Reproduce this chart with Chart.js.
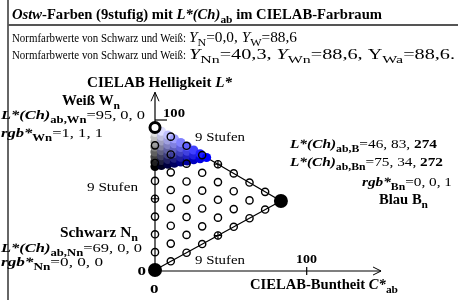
<!DOCTYPE html>
<html>
<head>
<meta charset="utf-8">
<script src="https://cdn.jsdelivr.net/npm/chart.js@4"></script>
<style>
  body { margin: 0; background: #fff; }
  #wrap { position: relative; width: 458px; height: 300px; }
</style>
</head>
<body>
<div id="wrap"><canvas id="chart"></canvas></div>
<script>
'use strict';

// ------------------------------- Data ------------------------------//
// corners in (C*ab, L*)
const cornerN = [0, 0];
const cornerW = [0, 95];
const cornerB = [83, 46];

// open circle lattice, 9 steps (one column per chroma step)
const gridC = [0, 10.4, 20.8, 31.1, 41.5, 51.9, 62.3, 72.6, 83];
const gridL = [
  [0, 11.9, 23.8, 35.6, 47.5, 59.4, 71.3, 83.1, 95],
  [5.8, 17.6, 29.5, 41.4, 53.3, 65.1, 77.0, 88.9],
  [11.5, 23.4, 35.3, 47.1, 59.0, 70.9, 82.8],
  [17.3, 29.1, 41.0, 52.9, 64.8, 76.6],
  [23.0, 34.9, 46.8, 58.6, 70.5],
  [28.8, 40.6, 52.5, 64.4],
  [34.5, 46.4, 58.3],
  [40.3, 52.1],
  [46.0]
];
// crossed circles (midpoints of the sides)
const crossC = [0, 41.5, 41.5];
const crossL = [47.5, 23.0, 70.5];

// coloured lattice between Nn, Wn and Bn
const colC = [0, 4.25, 8.5, 12.75, 17, 21.25, 25.5, 29.75, 34];
const colL = [
  [69, 72.25, 75.5, 78.75, 82, 85.25, 88.5, 91.75, 95],
  [69.75, 73, 76.25, 79.5, 82.75, 86, 89.25, 92.5],
  [70.5, 73.75, 77, 80.25, 83.5, 86.75, 90],
  [71.25, 74.5, 77.75, 81, 84.25, 87.5],
  [72, 75.25, 78.5, 81.75, 85],
  [72.75, 76, 79.25, 82.5],
  [73.5, 76.75, 80],
  [74.25, 77.5],
  [75]
];

// ------------------------------- Build points ------------------------------//
const gridPts = [];
gridL.forEach((col, j) => col.forEach(l => gridPts.push({ x: gridC[j], y: l })));

const colPts = [];
const colColors = [];
colL.forEach((col, j) => col.forEach((l, i) => {
  colPts.push({ x: colC[j], y: l });
  const w = Math.round(255 * i / 8);
  const b = Math.round(255 * (i + j) / 8);
  colColors.push(`rgb(${w},${w},${b})`);
}));

const crossPts = crossC.map((c, k) => ({ x: c, y: crossL[k] }));

// ------------------------------- Text helper ------------------------------//
const SERIF = '"Liberation Serif", "Times New Roman", serif';

function fontFor(flags, size) {
  let s = flags.includes('s') ? Math.round(size * 0.78) : size;
  return `${flags.includes('i') ? 'italic ' : ''}${flags.includes('b') ? 'bold ' : ''}${s}px ${SERIF}`;
}

// draws the runs between x1 and x2 (stretched horizontally to fit), y = baseline
function drawFit(ctx, x1, x2, y, runs, size) {
  let total = 0;
  for (const [t, f] of runs) {
    ctx.font = fontFor(f, size);
    total += ctx.measureText(t).width;
  }
  ctx.save();
  ctx.translate(x1, y);
  ctx.scale((x2 - x1) / total, 1);
  ctx.textAlign = 'left';
  ctx.textBaseline = 'alphabetic';
  ctx.fillStyle = '#000';
  let cx = 0;
  for (const [t, f] of runs) {
    ctx.font = fontFor(f, size);
    ctx.fillText(t, cx, f.includes('s') ? size * 0.28 : 0);
    cx += ctx.measureText(t).width;
  }
  ctx.restore();
}

function line(ctx, x1, y1, x2, y2, w) {
  ctx.beginPath();
  ctx.lineWidth = w;
  ctx.moveTo(x1, y1);
  ctx.lineTo(x2, y2);
  ctx.stroke();
}

// ------------------------------- Plugin ------------------------------//
const decor = {
  id: 'decor',
  beforeDatasetsDraw(chart) {
    const ctx = chart.ctx;
    const xs = chart.scales.x;
    const ys = chart.scales.y;
    const x0 = xs.getPixelForValue(0);
    const y0 = ys.getPixelForValue(0);
    const yTop = ys.getPixelForValue(118.5);
    const xEnd = xs.getPixelForValue(149);
    ctx.save();
    ctx.strokeStyle = '#000';
    // L* axis with arrow
    line(ctx, x0, y0, x0, yTop, 1.2);
    line(ctx, x0 - 4, yTop + 9, x0, yTop, 1);
    line(ctx, x0 + 4, yTop + 9, x0, yTop, 1);
    // C* axis with arrow
    line(ctx, x0, y0 + 1, xEnd, y0 + 1, 1.2);
    line(ctx, xEnd - 8, y0 - 3, xEnd, y0 + 1, 1);
    line(ctx, xEnd - 8, y0 + 5, xEnd, y0 + 1, 1);
    // ticks at 100
    const y100 = ys.getPixelForValue(100);
    line(ctx, x0, y100, x0 + 12, y100, 1.2);
    const x100 = xs.getPixelForValue(100);
    line(ctx, x100, y0 - 3, x100, y0 + 5, 1.2);
    ctx.restore();
  },
  afterDraw(chart) {
    const ctx = chart.ctx;
    ctx.save();
    // frame
    ctx.strokeStyle = '#666';
    line(ctx, 8, 0, 8, 300, 2);
    ctx.strokeStyle = '#555';
    line(ctx, 8, 25, 458, 25, 2);

    // header
    drawFit(ctx, 12, 382, 19, [['Ostw', 'bi'], ['-Farben (9stufig) mit ', 'b'], ['L*(Ch)', 'bi'], ['ab', 'bs'], [' im CIELAB-Farbraum', 'b']], 14);
    const pre = [['Normfarbwerte von Schwarz und Weiß:', '']];
    drawFit(ctx, 12, 186, 42, pre, 12.5);
    drawFit(ctx, 189, 297, 42, [['Y', 'i'], ['N', 's'], ['=0,0, ', ''], ['Y', 'i'], ['W', 's'], ['=88,6', '']], 14);
    drawFit(ctx, 12, 186, 59, pre, 12.5);
    drawFit(ctx, 189, 455, 59, [['Y', 'i'], ['Nn', 's'], ['=40,3, ', ''], ['Y', 'i'], ['Wn', 's'], ['=88,6, Y', ''], ['Wa', 's'], ['=88,6.', '']], 14);

    // axis titles and tick labels
    drawFit(ctx, 87, 232, 87, [['CIELAB Helligkeit ', 'b'], ['L*', 'bi']], 14);
    drawFit(ctx, 163, 185, 116.5, [['100', 'b']], 13);
    drawFit(ctx, 296, 317, 262.5, [['100', 'b']], 13);
    drawFit(ctx, 137.5, 146, 274.5, [['0', 'b']], 13);
    drawFit(ctx, 150, 158.5, 292.5, [['0', 'b']], 13);
    drawFit(ctx, 250, 398, 289, [['CIELAB-Buntheit ', 'b'], ['C*', 'bi'], ['ab', 'bs']], 14);

    // white corner
    drawFit(ctx, 62, 120, 105, [['Weiß W', 'b'], ['n', 'bs']], 14);
    drawFit(ctx, 1, 145, 119, [['L*(Ch)', 'bi'], ['ab,Wn', 'bs'], ['=95, 0, 0', '']], 13);
    drawFit(ctx, 1, 103, 137, [['rgb*', 'bi'], ['Wn', 'bs'], ['=1, 1, 1', '']], 13);

    // black corner
    drawFit(ctx, 60, 138, 237, [['Schwarz N', 'b'], ['n', 'bs']], 14);
    drawFit(ctx, 1, 142, 252, [['L*(Ch)', 'bi'], ['ab,Nn', 'bs'], ['=69, 0, 0', '']], 13);
    drawFit(ctx, 1, 103, 266, [['rgb*', 'bi'], ['Nn', 'bs'], ['=0, 0, 0', '']], 13);

    // blue corner
    drawFit(ctx, 290, 437, 148, [['L*(Ch)', 'bi'], ['ab,B', 'bs'], ['=46, 83, ', ''], ['274', 'b']], 13);
    drawFit(ctx, 290, 443, 166, [['L*(Ch)', 'bi'], ['ab,Bn', 'bs'], ['=75, 34, ', ''], ['272', 'b']], 13);
    drawFit(ctx, 362, 452, 186, [['rgb*', 'bi'], ['Bn', 'bs'], ['=0, 0, 1', '']], 13);
    drawFit(ctx, 379, 428, 204, [['Blau B', 'b'], ['n', 'bs']], 14);

    // step labels
    drawFit(ctx, 195, 245, 141, [['9 Stufen', '']], 13);
    drawFit(ctx, 87, 138, 191, [['9 Stufen', '']], 13);
    drawFit(ctx, 195, 245, 264, [['9 Stufen', '']], 13);
    ctx.restore();
  }
};

// ------------------------------- Chart ------------------------------//
const ctx = document.getElementById('chart').getContext('2d');
const myChart = new Chart(ctx, {
  type: 'scatter',
  data: {
    datasets: [
      {
        // corners N and B
        data: [{ x: cornerN[0], y: cornerN[1] }, { x: cornerB[0], y: cornerB[1] }],
        pointRadius: 7,
        backgroundColor: '#000',
        borderColor: '#000',
        borderWidth: 0,
        order: 1
      },
      {
        // corner W
        data: [{ x: cornerW[0], y: cornerW[1] }],
        pointRadius: 5,
        backgroundColor: '#fff',
        borderColor: '#000',
        borderWidth: 3,
        order: 2
      },
      {
        data: crossPts,
        pointStyle: 'cross',
        pointRadius: 4,
        borderColor: '#000',
        borderWidth: 1.2,
        order: 3
      },
      {
        data: gridPts,
        pointRadius: 3.6,
        backgroundColor: 'rgba(0,0,0,0)',
        borderColor: '#000',
        borderWidth: 1.4,
        order: 4
      },
      {
        data: colPts,
        pointRadius: 4.6,
        backgroundColor: colColors,
        borderColor: colColors,
        borderWidth: 0,
        order: 5
      },
      {
        // triangle sides N-B-W
        data: [{ x: cornerN[0], y: cornerN[1] }, { x: cornerB[0], y: cornerB[1] }, { x: cornerW[0], y: cornerW[1] }],
        showLine: true,
        pointRadius: 0,
        borderColor: '#000',
        borderWidth: 1.2,
        order: 6
      }
    ]
  },
  options: {
    responsive: true,
    maintainAspectRatio: false,
    animation: false,
    devicePixelRatio: 1,
    clip: false,
    layout: { padding: { left: 155, right: 151.3, top: 120, bottom: 30 } },
    plugins: { legend: { display: false }, tooltip: { enabled: false } },
    elements: { point: { hoverRadius: 0 } },
    scales: {
      x: { type: 'linear', min: 0, max: 100, display: false },
      y: { type: 'linear', min: 0, max: 100, display: false }
    }
  },
  plugins: [decor]
});
</script>
</body>
</html>
